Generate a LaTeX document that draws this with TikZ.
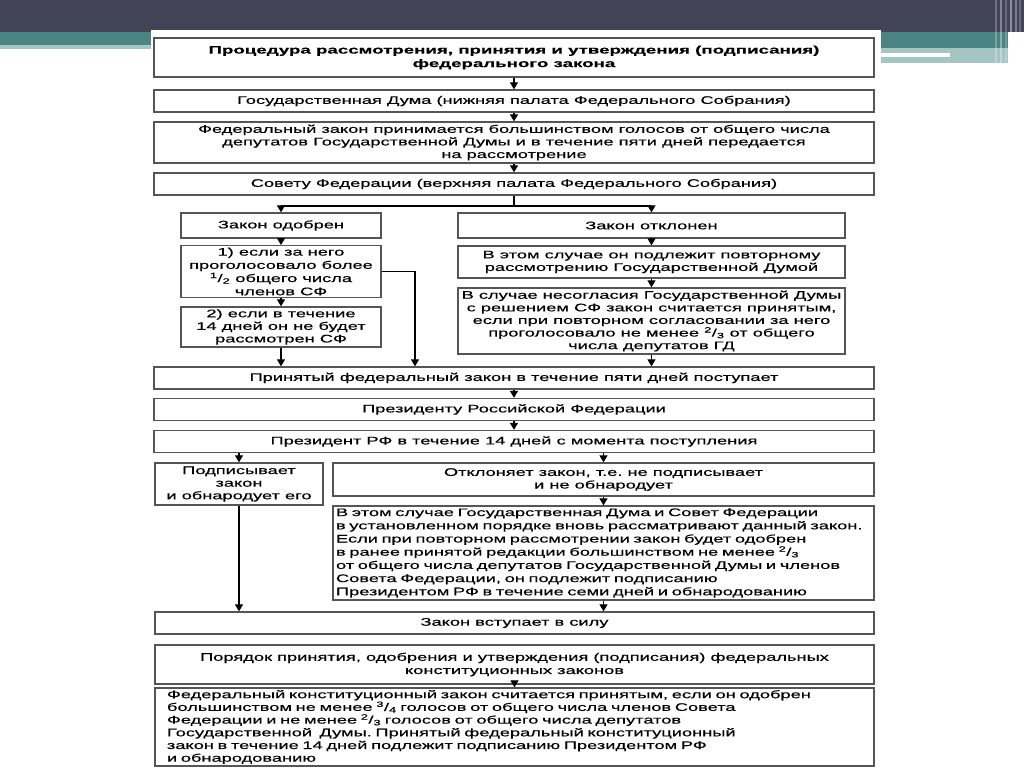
\documentclass[tikz,border=0pt]{standalone}
\usepackage{fontspec}
\setmainfont{Liberation Sans}[FakeStretch=1.66,FakeBold=0.4,BoldFeatures={FakeStretch=1.7}]
\usetikzlibrary{arrows.meta,calc}
\definecolor{bandDark}{HTML}{434357}
\definecolor{bandTeal}{HTML}{4A8583}
\definecolor{bandLight}{HTML}{A3C6C2}
\definecolor{boxLine}{HTML}{555555}
\frenchspacing
\begin{document}
\begin{tikzpicture}[x=1pt,y=-1pt,
  box/.style={draw=boxLine,line width=1.3pt,fill=white,inner sep=2pt,align=center,
    font=\fontsize{11}{12.6}\selectfont},
  tall/.style={font=\fontsize{11}{13.2}\selectfont},
  arr/.style={line width=1.1pt,-{Triangle[length=7pt,width=8pt]}},
  ln/.style={line width=1.1pt}]
% background
\useasboundingbox (0,0) rectangle (1024,767);
\fill[white] (0,0) rectangle (1024,767);
\fill[bandDark] (0,0) rectangle (1024,32);
\fill[bandTeal] (0,32) rectangle (1008,45);
\fill[bandTeal] (881,45) rectangle (1008,48);
\fill[bandLight] (0,45) rectangle (151,49);
\fill[bandLight] (881,48) rectangle (1008,63);
\fill[white] (881,53) rectangle (950,57);
\foreach \xx/\oo in {996/0.25,1001/0.35,1006/0.2,1011/0.4,1016/0.3,1020/0.2}
  \draw[white,opacity=\oo,line width=1.8pt] (\xx,0) -- (\xx,66);
\fill[white] (151,30) rectangle (881,767);
% boxes
\node[box,font=\bfseries\fontsize{11}{13.5}\selectfont,minimum width=720pt,minimum height=39pt] (title) at (514,57.5)
  {Процедура рассмотрения, принятия и утверждения (подписания)\\федерального закона};
\node[box,minimum width=720pt,minimum height=22pt] (duma) at (514,101)
  {Государственная Дума (нижняя палата Федерального Собрания)};
\node[box,minimum width=720pt,minimum height=41pt] (fz) at (514,142.5)
  {Федеральный закон принимается большинством голосов от общего числа\\депутатов Государственной Думы и в течение пяти дней передается\\на рассмотрение};
\node[box,minimum width=720pt,minimum height=22pt] (sovet) at (514,184)
  {Совету Федерации (верхняя палата Федерального Собрания)};
\node[box,minimum width=200pt,minimum height=25pt] (odobren) at (281,225.5) {Закон одобрен};
\node[box,minimum width=387pt,minimum height=25pt] (otklonen) at (651.5,225.5) {Закон отклонен};
\node[box,tall,minimum width=200pt,minimum height=51pt] (c1) at (281,271.5)
  {1) если за него\\проголосовало более\\\textsuperscript{1}/\textsubscript{2} общего числа\\членов СФ};
\node[box,minimum width=200pt,minimum height=40pt] (c2) at (281,327)
  {2) если в течение\\14 дней он не будет\\рассмотрен СФ};
\node[box,minimum width=387pt,minimum height=32pt] (r1) at (651.5,262)
  {В этом случае он подлежит повторному\\рассмотрению Государственной Думой};
\node[box,minimum width=387pt,minimum height=66pt] (r2) at (651.5,321)
  {В случае несогласия Государственной Думы\\с решением СФ закон считается принятым,\\если при повторном согласовании за него\\проголосовало не менее \textsuperscript{2}/\textsubscript{3} от общего\\числа депутатов ГД};
\node[box,minimum width=720pt,minimum height=22pt] (prinyat) at (514,378)
  {Принятый федеральный закон в течение пяти дней поступает};
\node[box,minimum width=720pt,minimum height=22pt] (prezidentu) at (514,409.5)
  {Президенту Российской Федерации};
\node[box,minimum width=720pt,minimum height=22pt] (prez14) at (514,441.5)
  {Президент РФ в течение 14 дней с момента поступления};
\node[box,minimum width=168pt,minimum height=42pt] (podpis) at (239,484)
  {Подписывает\\закон\\и обнародует его};
\node[box,minimum width=541pt,minimum height=33pt] (otklon) at (603.5,479.5)
  {Отклоняет закон, т.е. не подписывает\\и не обнародует};
\node[box,tall,minimum width=541pt,minimum height=94pt,align=left,inner xsep=3pt,text width=535pt] (big) at (603.5,553)
  {В этом случае Государственная Дума и Совет Федерации\\в установленном порядке вновь рассматривают данный закон.\\Если при повторном рассмотрении закон будет одобрен\\в ранее принятой редакции большинством не менее \textsuperscript{2}/\textsubscript{3}\\от общего числа депутатов Государственной Думы и членов\\Совета Федерации, он подлежит подписанию\\Президентом РФ в течение семи дней и обнародованию};
\node[box,minimum width=719pt,minimum height=22pt] (vstupaet) at (514.5,623) {Закон вступает в силу};
\node[box,tall,minimum width=719pt,minimum height=39pt] (poryadok) at (514.5,664.5)
  {Порядок принятия, одобрения и утверждения (подписания) федеральных\\конституционных законов};
\node[box,font=\fontsize{11}{12.7}\selectfont,minimum width=719pt,minimum height=78pt,align=left,inner xsep=12pt,inner ysep=1pt,text width=695pt] (last) at (514.5,727)
  {Федеральный конституционный закон считается принятым, если он одобрен\\большинством не менее \textsuperscript{3}/\textsubscript{4} голосов от общего числа членов Совета\\Федерации и не менее \textsuperscript{2}/\textsubscript{3} голосов от общего числа депутатов\\Государственной\ \ Думы. Принятый федеральный конституционный\\закон в течение 14 дней подлежит подписанию Президентом РФ\\и обнародованию};
% connectors
\coordinate (split) at (514,206);
\coordinate (jx) at (415,0);
\draw[arr] (title) -- (duma);
\draw[arr] (duma) -- (fz);
\draw[arr] (fz) -- (sovet);
\draw[ln] (sovet.south) -- (split);
\draw[arr] (split) -| (odobren.north);
\draw[arr] (split) -| (otklonen.north);
\draw[arr] (odobren) -- (c1);
\draw[arr] (c1) -- (c2);
\draw[arr] (c2.south) -- (c2.south |- prinyat.north);
\draw[arr] (c1.east) -| (jx |- prinyat.north);
\draw[arr] (otklonen) -- (r1);
\draw[arr] (r1) -- (r2);
\draw[arr] (r2.south) -- (r2.south |- prinyat.north);
\draw[arr] (prinyat) -- (prezidentu);
\draw[arr] (prezidentu) -- (prez14);
\draw[arr] (podpis.north |- prez14.south) -- (podpis.north);
\draw[arr] (otklon.north |- prez14.south) -- (otklon.north);
\draw[arr] (otklon) -- (big);
\draw[arr] (podpis.south) -- (podpis.south |- vstupaet.north);
\draw[arr] (big.south) -- (big.south |- vstupaet.north);
\draw[arr] (poryadok) -- (last);
\end{tikzpicture}
\end{document}
